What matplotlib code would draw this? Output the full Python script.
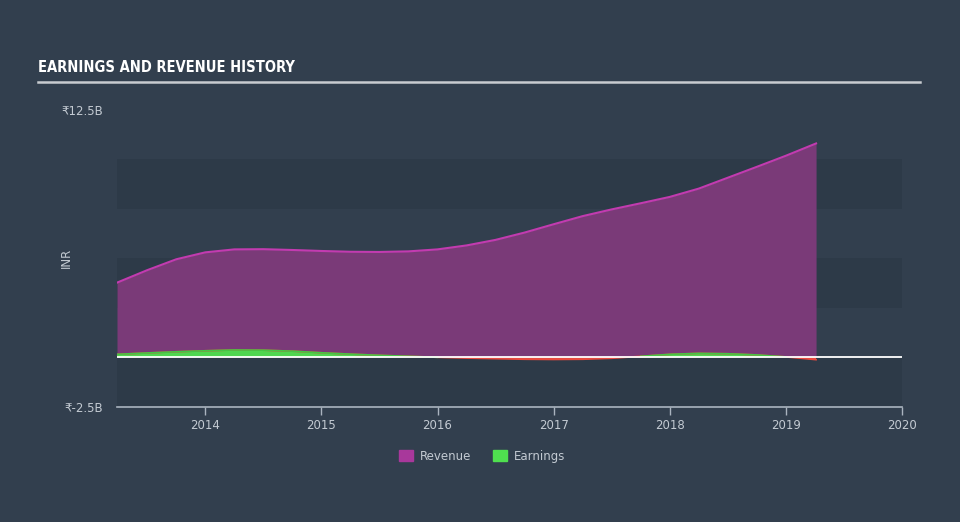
import numpy as np
import matplotlib
matplotlib.use("Agg")
import matplotlib.pyplot as plt
from matplotlib.patches import Patch

years = [2013.24, 2013.5, 2013.75, 2014.0, 2014.25, 2014.5, 2014.75, 2015.0, 2015.25,
         2015.5, 2015.75, 2016.0, 2016.25, 2016.5, 2016.75, 2017.0, 2017.25, 2017.5,
         2017.75, 2018.0, 2018.25, 2018.5, 2018.75, 2019.0, 2019.26]
revenue = [3.77, 4.4, 4.95, 5.3, 5.45, 5.46, 5.42, 5.37, 5.33, 5.32, 5.35, 5.45, 5.65,
           5.93, 6.3, 6.72, 7.13, 7.47, 7.78, 8.1, 8.52, 9.07, 9.62, 10.18, 10.8]
earnings = [0.15, 0.22, 0.28, 0.33, 0.37, 0.36, 0.31, 0.23, 0.16, 0.1, 0.05, 0.0, -0.04,
            -0.07, -0.1, -0.11, -0.1, -0.05, 0.05, 0.15, 0.2, 0.18, 0.12, 0.02, -0.12]
xticks = [2014, 2015, 2016, 2017, 2018, 2019, 2020]
yticks = [12.5, -2.5]
ytick_labels = ["₹12.5B", "₹-2.5B"]

bg = "#323f4e"
band = "#2d3a48"
txt = "#c3cad2"

fig = plt.figure(figsize=(9.6, 5.22), dpi=100, facecolor=bg)
ax = fig.add_axes([117/960, 1-406.8/522, (902-117)/960, (406.8-109.8)/522])
ax.set_facecolor(bg)
ax.set_xlim(2013.24, 2020)
ax.set_ylim(-2.5, 12.5)

for lo in [-2.5, 2.5, 7.5]:
    ax.axhspan(lo, lo + 2.5, color=band, zorder=0, lw=0)

x = np.array(years)
r = np.array(revenue)
e = np.array(earnings)
ax.fill_between(x, 0, r, color="#7a3a78", lw=0, zorder=1)
ax.plot(x, r, color="#c23bb0", lw=1.5, zorder=2)
ax.fill_between(x, 0, e, where=e >= 0, interpolate=True, color="#4fd64f", lw=0, zorder=3)
ax.fill_between(x, 0, e, where=e <= 0, interpolate=True, color="#e84a3f", lw=0, zorder=3)
ax.plot(x, e, color="#e84a3f", lw=1.2, zorder=4)
ax.plot(x, np.where(e >= -0.005, e, np.nan), color="#45c445", lw=1.2, zorder=4)
ax.axhline(0, color="white", lw=1.3, zorder=5)

for s in ["top", "right", "left"]:
    ax.spines[s].set_visible(False)
ax.spines["bottom"].set_color("#aab4bf")
ax.spines["bottom"].set_linewidth(1.2)
ax.set_xticks(xticks)
ax.set_xticklabels([str(t) for t in xticks])
ax.tick_params(axis="x", colors="#aab4bf", labelcolor=txt, labelsize=8.5, length=6, width=1, pad=3)
ax.set_yticks(yticks)
ax.set_yticklabels(ytick_labels)
ax.tick_params(axis="y", length=0, labelcolor=txt, labelsize=8.5, pad=10)
fig.text(66/960, 1-258/522, "INR", color=txt, fontsize=8.5, rotation=90, ha="center", va="center")

fig.text(38/960, 1-68/522, "EARNINGS AND REVENUE HISTORY", color="white", fontsize=10.5,
         fontweight="bold", fontstretch="condensed", family=["DejaVu Sans"], va="center", ha="left")
fig.add_artist(plt.Line2D([38/960, 920/960], [1-82/522, 1-82/522], color="#c8ccd0", lw=1.8))

handles = [Patch(color="#a8389b", label="Revenue"), Patch(color="#4fe04f", label="Earnings")]
leg = fig.legend(handles=handles, loc="center", bbox_to_anchor=(482/960, 1-456/522), ncol=2,
                 frameon=False, fontsize=8.5, labelcolor=txt, handlelength=1.2, handleheight=1.0,
                 columnspacing=1.8, handletextpad=0.6)

fig.savefig("out.png", dpi=100, facecolor=bg)
